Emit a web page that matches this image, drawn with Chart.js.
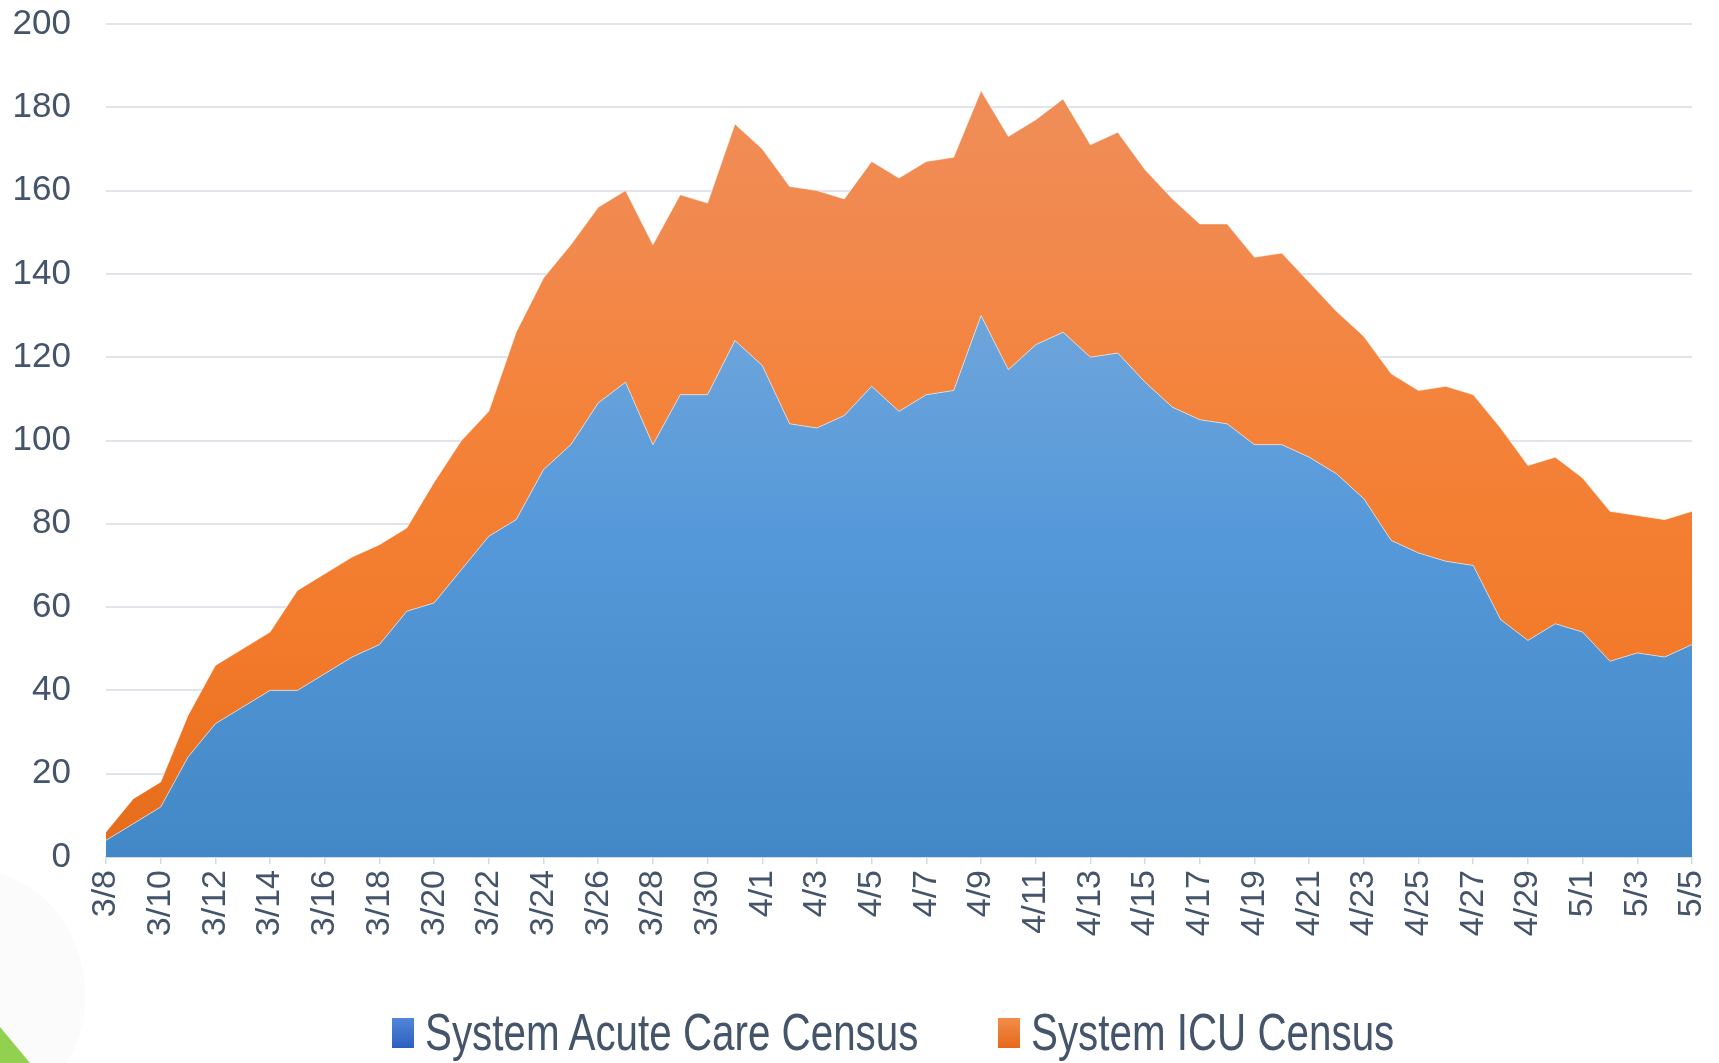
<!DOCTYPE html>
<html>
<head>
<meta charset="utf-8">
<title>System Census</title>
<script src="https://cdn.jsdelivr.net/npm/chart.js@4.4.1/dist/chart.umd.min.js"></script>
<style>
    html, body { margin: 0; padding: 0; background: #fff; }
    #wrap { position: relative; width: 1719px; height: 1063px; overflow: hidden; }
    #corner {
        position: absolute; left: 0; bottom: 0; width: 30px; height: 36px;
        background: #92d050; clip-path: polygon(0 0, 100% 100%, 0 100%);
    }
    #blob {
        position: absolute; left: -140px; top: 870px; width: 225px; height: 250px;
        border-radius: 50%; background: #fbfbfb;
    }
    .legend-item { position: absolute; top: 1006px; height: 60px; }
    .legend-item .box { position: absolute; left: 0; top: 12px; width: 22px; height: 30px; }
    .legend-item .txt {
        position: absolute; left: 33px; top: 0; white-space: nowrap;
        font: 52px/52px 'Liberation Sans', Arial, sans-serif; color: #44546a;
        transform: scaleX(0.776); transform-origin: 0 0;
    }
</style>
</head>
<body>
<div id="wrap">
    <div id="blob"></div>
    <canvas id="census"></canvas>
    <div id="legend"></div>
    <div id="corner"></div>
</div>
<script>
// daily census, 3/8 through 5/5
const dates = [
    "3/8", "3/9", "3/10", "3/11", "3/12", "3/13", "3/14", "3/15", "3/16", "3/17",
    "3/18", "3/19", "3/20", "3/21", "3/22", "3/23", "3/24", "3/25", "3/26", "3/27",
    "3/28", "3/29", "3/30", "3/31", "4/1", "4/2", "4/3", "4/4", "4/5", "4/6",
    "4/7", "4/8", "4/9", "4/10", "4/11", "4/12", "4/13", "4/14", "4/15", "4/16",
    "4/17", "4/18", "4/19", "4/20", "4/21", "4/22", "4/23", "4/24", "4/25", "4/26",
    "4/27", "4/28", "4/29", "4/30", "5/1", "5/2", "5/3", "5/4", "5/5"
];
const acuteCare = [
    4, 8, 12, 24, 32, 36, 40, 40, 44, 48,
    51, 59, 61, 69, 77, 81, 93, 99, 109, 114,
    99, 111, 111, 124, 118, 104, 103, 106, 113, 107,
    111, 112, 130, 117, 123, 126, 120, 121, 114, 108,
    105, 104, 99, 99, 96, 92, 86, 76, 73, 71,
    70, 57, 52, 56, 54, 47, 49, 48, 51
];
const icu = [
    2, 6, 6, 10, 14, 14, 14, 24, 24, 24,
    24, 20, 29, 31, 30, 45, 46, 48, 47, 46,
    48, 48, 46, 52, 52, 57, 57, 52, 54, 56,
    56, 56, 54, 56, 54, 56, 51, 53, 51, 50,
    47, 48, 45, 46, 42, 39, 39, 40, 39, 42,
    41, 46, 42, 40, 37, 36, 33, 33, 32
];
const seriesNames = ["System Acute Care Census", "System ICU Census"];
const yTicks = { min: 0, max: 200, step: 20 };

const textColor = "#44546a";
const baseFont = "'Liberation Sans', Arial, sans-serif";

function gradient(context, stops, fallback) {
    const { chart } = context;
    const area = chart.chartArea;
    if (!area) return fallback;
    const g = chart.ctx.createLinearGradient(0, area.top, 0, area.bottom);
    stops.forEach(([p, c]) => g.addColorStop(p, c));
    return g;
}

const blueStops = [[0, "#7bafdf"], [0.35, "#6ea5db"], [0.6, "#5699da"], [1, "#4388c6"]];
const orangeStops = [[0, "#ef8f5d"], [0.3, "#f2884b"], [0.45, "#f4833b"], [0.75, "#f27a2a"], [1, "#e46b19"]];

// legend: the original's text is horizontally squeezed, so it is built in HTML
const legendSwatches = ["linear-gradient(#5386da, #2d5fbf)", "linear-gradient(#f38d4a, #e5691a)"];
const legendLeft = [392, 998];
const legendEl = document.getElementById("legend");
seriesNames.forEach((name, i) => {
    const item = document.createElement("div");
    item.className = "legend-item";
    item.style.left = legendLeft[i] + "px";
    item.innerHTML = `<div class="box" style="background:${legendSwatches[i]}"></div><span class="txt">${name}</span>`;
    legendEl.appendChild(item);
});

new Chart(document.getElementById("census"), {
    type: "line",
    data: {
        labels: dates,
        datasets: [
            {
                label: seriesNames[0],
                data: acuteCare,
                fill: "origin",
                backgroundColor: ctx => gradient(ctx, blueStops, "#5699da"),
                borderColor: "rgba(255,255,255,0.55)",
                borderWidth: 1,
                pointRadius: 0,
                tension: 0
            },
            {
                label: seriesNames[1],
                data: icu,
                fill: "-1",
                backgroundColor: ctx => gradient(ctx, orangeStops, "#f4833b"),
                borderColor: "rgba(255,255,255,0.55)",
                borderWidth: 1,
                pointRadius: 0,
                tension: 0
            }
        ]
    },
    options: {
        responsive: true,
        maintainAspectRatio: false,
        animation: false,
        layout: { padding: { top: 24, right: 27, left: 0, bottom: 0 } },
        plugins: {
            tooltip: { enabled: false },
            legend: { display: false }
        },
        scales: {
            x: {
                offset: false,
                grid: {
                    drawOnChartArea: false,
                    drawTicks: true,
                    tickLength: 7,
                    lineWidth: 1.5,
                    color: c => (c.index % 2 === 0 ? "#d3dae3" : "rgba(0,0,0,0)")
                },
                border: { display: true, color: "#cfdbe8", width: 2 },
                ticks: {
                    autoSkip: false,
                    minRotation: 90,
                    maxRotation: 90,
                    padding: 6,
                    color: textColor,
                    font: { family: baseFont, size: 34 },
                    callback: function (v, i) {
                        return i % 2 === 0 ? this.getLabelForValue(v) : "";
                    }
                },
                afterFit: s => {
                    s.height = 1063 - 857;
                    s.paddingLeft = 0;
                    s.paddingRight = 0;
                }
            },
            y: {
                stacked: true,
                min: yTicks.min,
                max: yTicks.max,
                ticks: {
                    stepSize: yTicks.step,
                    padding: 35,
                    color: textColor,
                    font: { family: baseFont, size: 35 }
                },
                grid: { color: "#e1e5eb", lineWidth: 2, drawTicks: false },
                border: { display: false },
                afterFit: s => {
                    s.width = 106;
                    s.paddingTop = 0;
                    s.paddingBottom = 0;
                }
            }
        }
    }
});
</script>
</body>
</html>
